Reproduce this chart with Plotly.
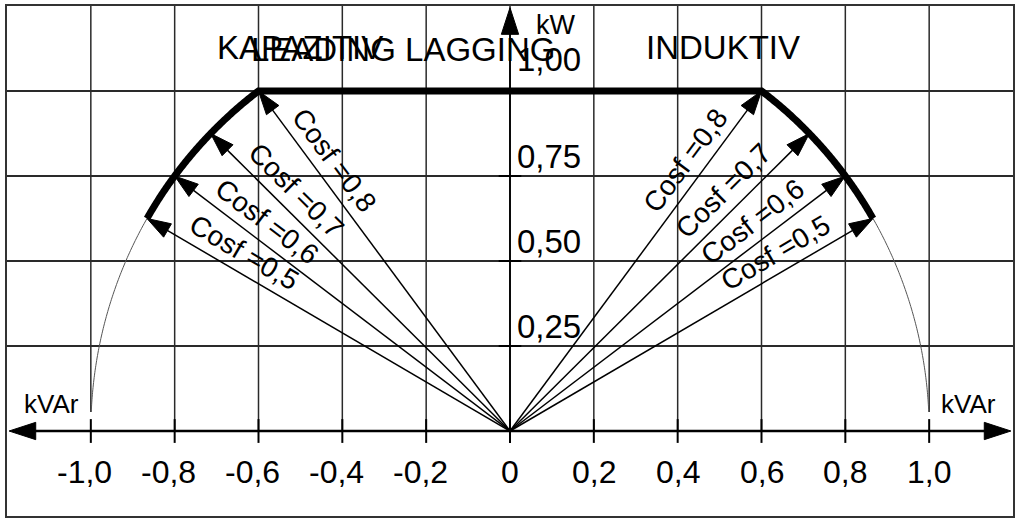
import numpy as np
import plotly.graph_objects as go

# ---- data ----
cos_phi = [0.8, 0.7, 0.6, 0.5]
cos_labels = ["Cosf =0,8", "Cosf =0,7", "Cosf =0,6", "Cosf =0,5"]
p_cap = 0.8                      # kW limit (flat top of the curve), in units of S
x_ticks = [-1.0, -0.8, -0.6, -0.4, -0.2, 0.0, 0.2, 0.4, 0.6, 0.8, 1.0]
x_tick_labels = ["-1,0", "-0,8", "-0,6", "-0,4", "-0,2", "0", "0,2", "0,4", "0,6", "0,8", "1,0"]
y_ticks = [0.2, 0.4, 0.6, 0.8]
y_tick_labels = ["0,25", "0,50", "0,75", "1,00"]

# ---- layout geometry ----
W, H = 1017, 518
ML, MR, MT, MB = 7, 2, 6, 2
XR = [-1.2, 1.2]
YR = [-0.2, 1.0]
PX_X = (W - ML - MR) / (XR[1] - XR[0])
PX_Y = (H - MT - MB) / (YR[1] - YR[0])
FONT = "Liberation Sans, Arial, sans-serif"
GRID = "#2a2a2a"


def arrow_marker(size):
    return dict(symbol="arrow", size=[0, size], angleref="previous", color="black",
                opacity=1, line=dict(color="black", width=1))


fig = go.Figure()

# thick capability curve: arc (cos 0.5 -> cos 0.8), flat at p_cap, arc back
c_lo, c_hi = min(cos_phi), max(cos_phi)
p_arc = np.linspace(c_lo, c_hi, 80)
left_x = -np.sqrt(1 - p_arc ** 2)
right_x = np.sqrt(1 - p_arc[::-1] ** 2)
cx = np.concatenate([left_x, right_x])
cy = np.concatenate([p_arc, p_arc[::-1]])
fig.add_trace(go.Scatter(x=cx, y=cy, mode="lines",
                         line=dict(color="black", width=7, simplify=False),
                         hoverinfo="skip"))

# thin continuation of the unit circle down toward the kVAr axis
p_thin = np.linspace(0.045, c_lo, 80)
for s in (-1, 1):
    fig.add_trace(go.Scatter(x=s * np.sqrt(1 - p_thin ** 2), y=p_thin, mode="lines",
                             line=dict(color="#555555", width=1, simplify=False),
                             hoverinfo="skip"))

# power-factor arrows
for c in cos_phi:
    q = np.sqrt(1 - c ** 2)
    for s in (-1, 1):
        fig.add_trace(go.Scatter(
            x=[0, s * q], y=[0, c], mode="lines+markers",
            line=dict(color="black", width=1.5),
            marker=arrow_marker(25),
            hoverinfo="skip", cliponaxis=False))

# axes with arrows
for s in (-1, 1):
    fig.add_trace(go.Scatter(
        x=[0, s * 1.195], y=[0, 0], mode="lines+markers",
        line=dict(color="black", width=2.5),
        marker=arrow_marker(28),
        hoverinfo="skip", cliponaxis=False))
fig.add_trace(go.Scatter(
    x=[0, 0], y=[0, 0.996], mode="lines+markers",
    line=dict(color="black", width=1.8),
    marker=arrow_marker(28),
    hoverinfo="skip", cliponaxis=False))

shapes = []
# vertical grid lines (only above the kVAr axis)
for xv in x_ticks:
    y0 = 0.045 if abs(abs(xv) - 1.0) < 1e-9 else 0.0
    shapes.append(dict(type="line", xref="x", yref="y", x0=xv, x1=xv, y0=y0, y1=YR[1],
                       line=dict(color=GRID, width=1.5), layer="below"))
    shapes.append(dict(type="line", xref="x", yref="y", x0=xv, x1=xv, y0=-0.028, y1=0.028,
                       line=dict(color="black", width=2)))
# small ticks on the kW axis
for yv in y_ticks:
    shapes.append(dict(type="line", xref="x", yref="y", x0=-0.027, x1=0.027, y0=yv, y1=yv,
                       line=dict(color="black", width=2)))

annotations = []
# x tick labels (digits centred; minus hangs left)
for xv, lab in zip(x_ticks, x_tick_labels):
    annotations.append(dict(x=xv, y=-0.0965, xref="x", yref="y", text=lab, showarrow=False,
                            xanchor="center", yanchor="middle",
                            xshift=-6 if lab.startswith("-") else 0,
                            font=dict(family=FONT, size=32, color="black")))
# y tick labels
for i, (yv, lab) in enumerate(zip(y_ticks, y_tick_labels)):
    extra = 12 if i == len(y_ticks) - 1 else 0
    annotations.append(dict(x=0, y=yv, xref="x", yref="y", text=lab, showarrow=False,
                            xanchor="left", yanchor="middle", xshift=5, yshift=20 + extra,
                            font=dict(family=FONT, size=33, color="black")))

# cos phi labels along the arrows
ALONG, PERP = 101.0, 20.0
for c, lab in zip(cos_phi, cos_labels):
    q = np.sqrt(1 - c ** 2)
    for s in (-1, 1):
        tip = np.array([s * q * PX_X, -c * PX_Y])
        d = -tip / np.linalg.norm(tip)
        read = d if s < 0 else -d
        theta = np.degrees(np.arctan2(read[1], read[0]))
        up = np.array([read[1], -read[0]])
        cen = tip + ALONG * d + PERP * up
        annotations.append(dict(x=cen[0] / PX_X, y=-cen[1] / PX_Y, xref="x", yref="y",
                                text=lab, showarrow=False, textangle=theta,
                                xanchor="center", yanchor="middle",
                                font=dict(family=FONT, size=28, color="black")))

# axis names and region titles
annotations += [
    dict(x=-1.093, y=0.0635, text="kVAr", size=26),
    dict(x=1.093, y=0.0635, text="kVAr", size=26),
    dict(x=0.1095, y=0.955, text="kW", size=27),
    dict(x=-0.5, y=0.903, text="KAPAZITIV", size=33),
    dict(x=-0.255, y=0.897, text="LEADING LAGGING", size=33),
    dict(x=0.507, y=0.902, text="INDUKTIV", size=33),
]
for a in annotations[-6:]:
    sz = a.pop("size")
    a.update(xref="x", yref="y", showarrow=False, xanchor="center", yanchor="middle",
             font=dict(family=FONT, size=sz, color="black"))

fig.update_layout(
    width=W, height=H,
    margin=dict(l=ML, r=MR, t=MT, b=MB),
    paper_bgcolor="white", plot_bgcolor="white",
    showlegend=False,
    shapes=shapes, annotations=annotations,
    xaxis=dict(range=XR, showgrid=False, zeroline=False, showticklabels=False,
               ticks="", showline=True, mirror=True, linecolor="#333333", linewidth=2,
               fixedrange=True),
    yaxis=dict(range=YR, tickvals=y_ticks, showgrid=True, gridcolor=GRID, gridwidth=1.5,
               zeroline=False, showticklabels=False, ticks="", showline=True, mirror=True,
               linecolor="#333333", linewidth=2, fixedrange=True),
)

fig.write_html("out.html")
